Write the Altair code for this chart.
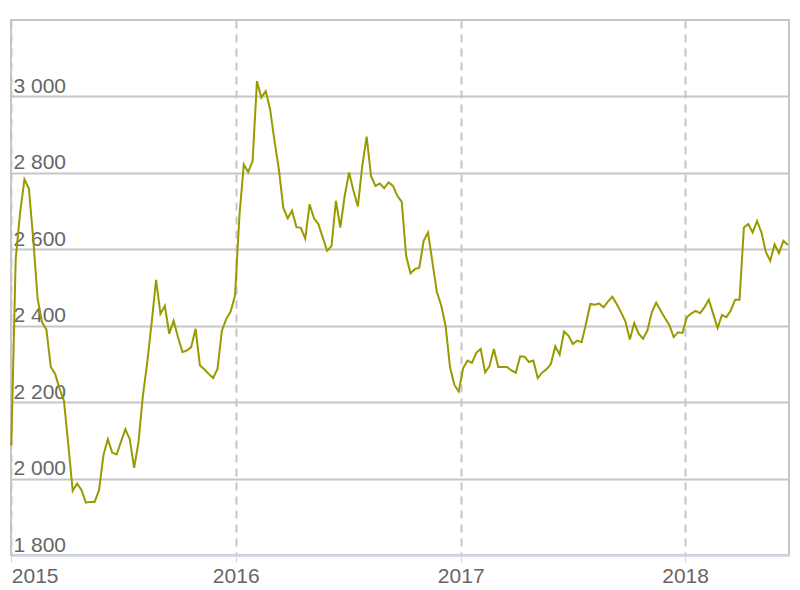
import altair as alt
import pandas as pd

# Weekly index values (Jan 2015 – Jun 2018)
start_date = "2015-01-01"
end_date = "2018-06-17"
values = [
    2087,
    2574, 2696, 2783, 2759, 2627, 2470, 2409, 2390, 2292, 2274,
    2235, 2204, 2087, 1968, 1987, 1970, 1937, 1939, 1939, 1970,
    2061, 2103, 2068, 2063, 2096, 2129, 2103, 2028, 2096, 2218,
    2305, 2409, 2520, 2431, 2452, 2379, 2413, 2370, 2331, 2335,
    2344, 2392, 2296, 2286, 2274, 2263, 2287, 2387, 2418, 2437,
    2479, 2688, 2822, 2802, 2831, 3040, 2997, 3014, 2966, 2883,
    2809, 2709, 2681, 2701, 2658, 2656, 2628, 2718, 2681, 2666,
    2631, 2596, 2609, 2727, 2657, 2740, 2801, 2753, 2712, 2818,
    2895, 2792, 2766, 2772, 2760, 2775, 2766, 2740, 2724, 2583,
    2537, 2548, 2552, 2622, 2644, 2566, 2489, 2453, 2400, 2292,
    2245, 2228, 2289, 2309, 2303, 2329, 2339, 2278, 2294, 2339,
    2292, 2292, 2292, 2283, 2277, 2320, 2319, 2305, 2309, 2263,
    2277, 2286, 2300, 2346, 2324, 2385, 2374, 2352, 2361, 2357,
    2405, 2457, 2455, 2458, 2448, 2463, 2476, 2457, 2435, 2411,
    2364, 2407, 2379, 2366, 2387, 2435, 2460, 2440, 2420, 2402,
    2370, 2383, 2381, 2422, 2432, 2439, 2433, 2448, 2468, 2431,
    2394, 2428, 2422, 2440, 2468, 2468, 2657, 2666, 2644, 2674,
    2644, 2593, 2570, 2613, 2590, 2622, 2611,
]
year_ticks = [2015, 2016, 2017, 2018]
y_ticks = [1800, 2000, 2200, 2400, 2600, 2800, 3000]

dates = pd.date_range(start=start_date, end=end_date, periods=len(values))
df = pd.DataFrame({
    "date": [d.strftime("%Y-%m-%dT%H:%M:%SZ") for d in dates],
    "value": values,
})

label_color = "#666666"
grid_color = "#c6c6c6"

x_enc = alt.X(
    "date:T",
    scale=alt.Scale(
        type="utc",
        domain=[
            alt.DateTime(year=2014, month=12, date=31, hours=12, utc=True),
            alt.DateTime(year=2018, month=6, date=19, utc=True),
        ],
    ),
    axis=alt.Axis(
        title=None,
        values=[alt.DateTime(year=y, month=1, date=1, utc=True) for y in year_ticks],
        format="%Y",
        grid=True,
        gridColor=grid_color,
        gridDash=[8, 6],
        gridWidth=2,
        domainColor="#ccd6eb",
        domainWidth=2,
        ticks=True,
        tickColor="#ccd6eb",
        tickSize=7,
        tickWidth=1,
        labelFont="Liberation Sans",
        labelFontSize=21,
        labelColor=label_color,
        labelBaseline="alphabetic",
        labelPadding=20,
        labelFlush=6,
        labelOverlap=False,
    ),
)

y_enc = alt.Y(
    "value:Q",
    scale=alt.Scale(domain=[1800, 3200], nice=False, zero=False),
    axis=alt.Axis(
        title=None,
        values=y_ticks,
        labelExpr="replace(format(datum.value, ','), ',', ' ')",
        grid=True,
        gridColor=grid_color,
        gridWidth=2,
        domain=False,
        ticks=False,
        tickSize=0,
        labelAlign="left",
        labelBaseline="alphabetic",
        labelPadding=-2,
        labelOffset=-4,
        labelFont="Liberation Sans",
        labelFontSize=21,
        labelColor=label_color,
        labelOverlap=False,
        labelBound=False,
    ),
)

chart = (
    alt.Chart(df)
    .mark_line(color="#999900", strokeWidth=2)
    .encode(x=x_enc, y=y_enc)
    .properties(
        width=778,
        height=535,
        autosize=alt.AutoSizeParams(type="none"),
        padding={"left": 3, "top": 12, "right": 3, "bottom": 30},
        background="white",
    )
    .configure_view(stroke=grid_color, strokeWidth=2)
)

chart.save("out.html", embed_options={"renderer": "svg", "actions": False})
